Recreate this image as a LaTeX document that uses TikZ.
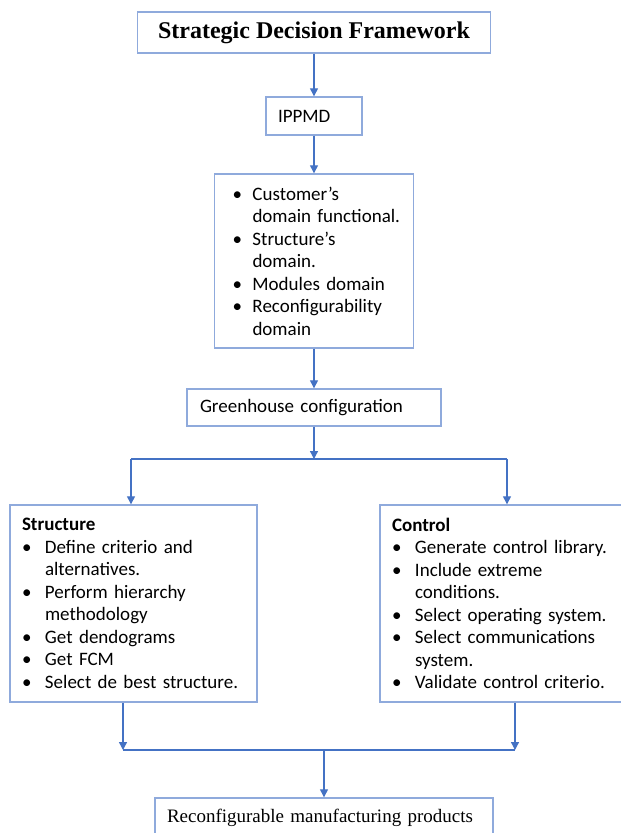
\documentclass[tikz,border=0pt]{standalone}
\usepackage{fontspec}
\setmainfont{Carlito}
\newfontfamily\timesfont{Liberation Serif}
\usepackage{xcolor}
\usetikzlibrary{arrows.meta, positioning}

\definecolor{boxblue}{RGB}{143,170,220}
\definecolor{lineblue}{RGB}{68,114,196}
% bullet line and continuation line
\newcommand{\itm}[2][20pt]{\makebox[#1][l]{\textbullet}\mbox{#2}}
\newcommand{\cnt}[2][20pt]{\makebox[#1][l]{}\mbox{#2}}

\begin{document}
\begin{tikzpicture}[
  x=1pt, y=-1pt,
  box/.style={rectangle, draw=boxblue, line width=1.4pt, inner ysep=0pt, align=left,
    font=\fontsize{19}{22.5}\selectfont},
  edge/.style={-{Triangle[width=8pt, length=8pt]}, color=lineblue, line width=1.3pt},
  link/.style={color=lineblue, line width=1.3pt}
]
\useasboundingbox (0,0) rectangle (621,833);

\node[box, align=center, minimum width=353pt, minimum height=41pt,
  font=\timesfont\bfseries\fontsize{24}{28}\selectfont] (title) at (314,32.5) {Strategic Decision Framework};
\node[box, text width=72pt, inner xsep=12pt, minimum height=38pt] (ippmd) at (314,116) {IPPMD};
\node[box, text width=163pt, inner xsep=18pt, minimum height=174pt] (domains) at (314,261) {%
  \itm{Customer's}\\
  \cnt{domain functional.}\\
  \itm{Structure's}\\
  \cnt{domain.}\\
  \itm{Modules domain}\\
  \itm{Reconfigurability}\\
  \cnt{domain}};
\node[box, text width=228pt, inner xsep=13pt, minimum height=37pt] (green) at (314,407.5) {Greenhouse configuration};

\node[box, text width=223pt, inner xsep=12pt, minimum height=197pt] (struct) at (133.5,603.5) {%
  \textbf{Structure}\\
  \itm[23pt]{Define criterio and}\\
  \cnt[23pt]{alternatives.}\\
  \itm[23pt]{Perform hierarchy}\\
  \cnt[23pt]{methodology}\\
  \itm[23pt]{Get dendograms}\\
  \itm[23pt]{Get FCM}\\
  \itm[23pt]{Select de best structure.}};
\node[box, text width=224pt, inner xsep=12pt, minimum height=197pt] (control) at (504,603.5) {%
  \textbf{Control}\\
  \itm[23pt]{Generate control library.}\\
  \itm[23pt]{Include extreme}\\
  \cnt[23pt]{conditions.}\\
  \itm[23pt]{Select operating system.}\\
  \itm[23pt]{Select communications}\\
  \cnt[23pt]{system.}\\
  \itm[23pt]{Validate control criterio.}};

\node[box, text width=314pt, inner xsep=12pt, minimum height=40pt,
  font=\timesfont\fontsize{19}{23}\selectfont] (product) at (324,818) {Reconfigurable manufacturing products};

% split and join points
\coordinate (split) at (314,459);
\coordinate (splitL) at (131,459);
\coordinate (splitR) at (507,459);
\coordinate (joinL) at (123,750);
\coordinate (joinR) at (515,750);
\coordinate (join) at (324,750);

\draw[edge] (title) -- (ippmd);
\draw[edge] (ippmd) -- (domains);
\draw[edge] (domains) -- (green);
\draw[edge] (green) -- (split);
\draw[link] (splitL) -- (splitR);
\draw[edge] (splitL) -- (splitL |- struct.north);
\draw[edge] (splitR) -- (splitR |- control.north);
\draw[edge] (struct.south -| joinL) -- (joinL);
\draw[edge] (control.south -| joinR) -- (joinR);
\draw[link] (joinL) -- (joinR);
\draw[edge] (join) -- (product);
\end{tikzpicture}
\end{document}
